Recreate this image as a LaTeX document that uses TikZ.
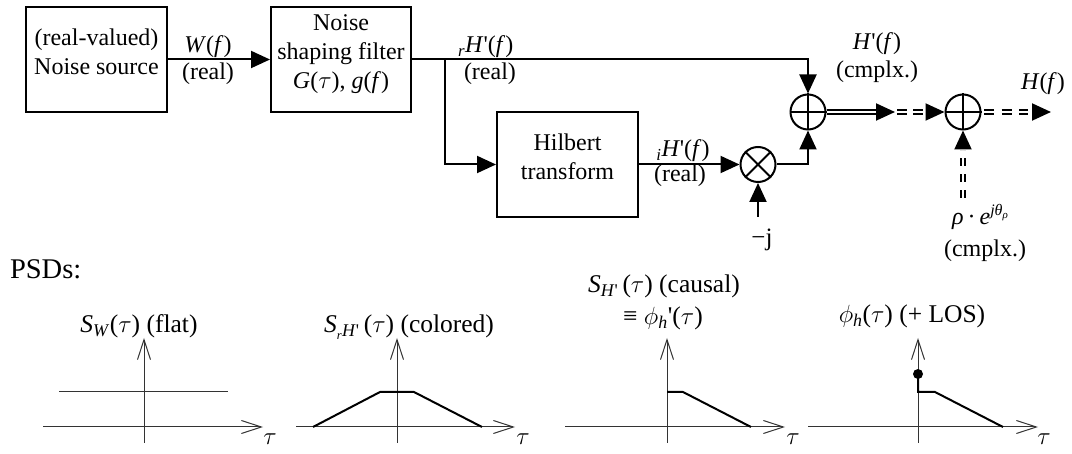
\documentclass[tikz,border=0pt]{standalone}
\usepackage{fontspec}
\setmainfont{Liberation Serif}
\usetikzlibrary{arrows.meta}
\newcommand{\iq}{\textquotesingle}
\newcommand{\tu}{$\tau$}
\begin{document}
\begin{tikzpicture}[x=1pt,y=-1pt,
  font=\fontsize{24}{29}\selectfont,
  line width=2pt,
  box/.style={draw, line width=2pt, minimum width=141pt, minimum height=105pt, inner sep=0pt, align=center},
  sumc/.style={draw, circle, minimum size=35pt, inner sep=0pt, line width=2pt},
  tri/.style={-{Triangle[length=19pt,width=17pt]}},
  lbl/.style={anchor=base, inner sep=0pt},
  plbl/.style={anchor=base, inner sep=0pt, font=\fontsize{25.5}{30}\selectfont},
  dbl/.style={double, double distance=2.5pt, line width=2pt},
  ax/.style={line width=1pt, black!80, -{Straight Barb[length=20pt,width=13pt]}},
  axl/.style={line width=1pt, black!80},
  crv/.style={line width=2pt, line join=miter}
]
\useasboundingbox (0,0) rectangle (1072,454);

% blocks
\node[box, text height=46pt, text depth=15pt] (src) at (96.5,59.5) {(real-valued)\\Noise source};
\node[box, minimum width=140pt, text height=75pt, text depth=16pt] (flt) at (341,59.5) {Noise\\shaping filter\\\textit{G}(\tu), \textit{g}(\textit{f})};
\node[box, text height=46pt, text depth=15pt] (hil) at (567.5,164.5) {Hilbert\\transform};
\node[sumc] (add1) at (808,112) {};
\node[sumc] (mul) at (758,164.5) {};
\node[sumc] (add2) at (963,112) {};
\draw (add1.north) -- (add1.south) (add1.west) -- (add1.east);
\draw (add2.north) -- (add2.south) (add2.west) -- (add2.east);
\draw (mul.45) -- (mul.225) (mul.135) -- (mul.315);

% labels
\node[lbl] (wf) at (208,53) {\textit{W}(\textit{f})};
\node[lbl] (wr) at (208,80) {(real)};
\node[lbl, anchor=base west] (rh) at (457,53) {\textsubscript{\textit{r}}\textit{H}\iq(\textit{f})};
\node[lbl, anchor=base west] (rr) at (463,80) {(real)};
\node[lbl] (ih) at (683,157) {\textsubscript{\textit{i}}\textit{H}\iq(\textit{f})};
\node[lbl] (ir) at (680,182) {(real)};
\node[lbl] (hp) at (877,50) {\textit{H}\iq(\textit{f})};
\node[lbl] (hpc) at (877,78) {(cmplx.)};
\node[lbl] (hf) at (1043,90) {\textit{H}(\textit{f})};
\node[lbl, font=\fontsize{25}{29}\selectfont] (mj) at (762,246) {−j};
\node[lbl] (rho) at (980,225) {\textit{ρ}\,·\,\textit{e}\raisebox{9pt}{\fontsize{16}{16}\selectfont\textit{jθ}\raisebox{-3pt}{\fontsize{11}{11}\selectfont\textit{ρ}}}};
\node[lbl] (rhoc) at (985,257) {(cmplx.)};

% helper coordinates
\coordinate (br) at (445,59.5);
\coordinate (jin) at (758,217);
\coordinate (d1) at (878,112);
\coordinate (m1a) at (876,112);
\coordinate (m1) at (895,112);
\coordinate (d2) at (923,112);
\coordinate (m2a) at (926.5,112);
\coordinate (d3) at (1028,112);
\coordinate (m3a) at (1032,112);
\coordinate (m3) at (1051,112);
\coordinate (v1) at (963,198);
\coordinate (v2) at (963,150);
\coordinate (v3) at (963,148.5);

% connectors
\draw[tri] (src.east) -- (flt.west);
\draw[tri] (flt.east) -| (add1.north);
\draw[tri] (br) |- (hil.west);
\draw[tri] (hil.east) -- (mul.west);
\draw[tri] (jin) -- (mul.south);
\draw[tri] (mul.east) -| (add1.south);
\draw[dbl] (add1.east) -- (d1);
\draw[tri] (m1a) -- (m1);
\draw[dbl, dash pattern=on 10pt off 6pt, dash phase=14pt] (m1) -- (d2);
\draw[tri] (m2a) -- (add2.west);
\draw[dbl, dash pattern=on 10pt off 7.5pt, dash phase=15pt] (add2.east) -- (d3);
\draw[tri] (m3a) -- (m3);
\draw[dbl, dash pattern=on 8pt off 8pt] (v1) -- (v2);
\draw[tri] (v3) -- (add2.south);

% PSDs
\node[anchor=base west, inner sep=0pt, font=\fontsize{28.5}{34}\selectfont] (psd) at (9,279) {PSDs:};

% plot 1
\draw[ax] (43,427) -- (263,427);
\draw[ax] (144,443) -- (144,338);
\draw[axl] (59,392) -- (228,392);
\node[plbl] (t1) at (270,445) {\tu};
\node[plbl] (l1) at (139,333) {\textit{S}\textsubscript{\textit{W}}(\tu) (flat)};

% plot 2
\draw[ax] (296,427) -- (515,427);
\draw[ax] (397,443) -- (397,338);
\draw[crv] (313,427) -- (380,392) -- (414,392) -- (482,427);
\node[plbl] (t2) at (523,445) {\tu};
\node[plbl] (l2) at (409,333) {\textit{S}\textsubscript{\textsubscript{\textit{r}}\textit{H}\iq}\,(\tu) (colored)};

% plot 3
\draw[ax] (565,427) -- (785,427);
\draw[ax] (667,443) -- (667,338);
\draw[crv] (667,392) -- (683,392) -- (751,427);
\node[plbl] (t3) at (793,445) {\tu};
\node[plbl] (l3a) at (664,293) {\textit{S}\textsubscript{\textit{H}\iq}\,(\tu) (causal)};
\node[plbl] (l3b) at (663,325) {≡ $\phi$\textsubscript{\textit{h}}\iq(\tu)};

% plot 4
\draw[ax] (808,427) -- (1038,427);
\draw[ax] (918,443) -- (918,338);
\draw[crv] (918,374) -- (918,392) -- (935,392) -- (1003,427);
\fill (918,374) circle (5pt);
\node[plbl] (t4) at (1044,445) {\tu};
\node[plbl] (l4) at (912,323) {$\phi$\textsubscript{\textit{h}}(\tu) (+ LOS)};
\end{tikzpicture}
\end{document}
